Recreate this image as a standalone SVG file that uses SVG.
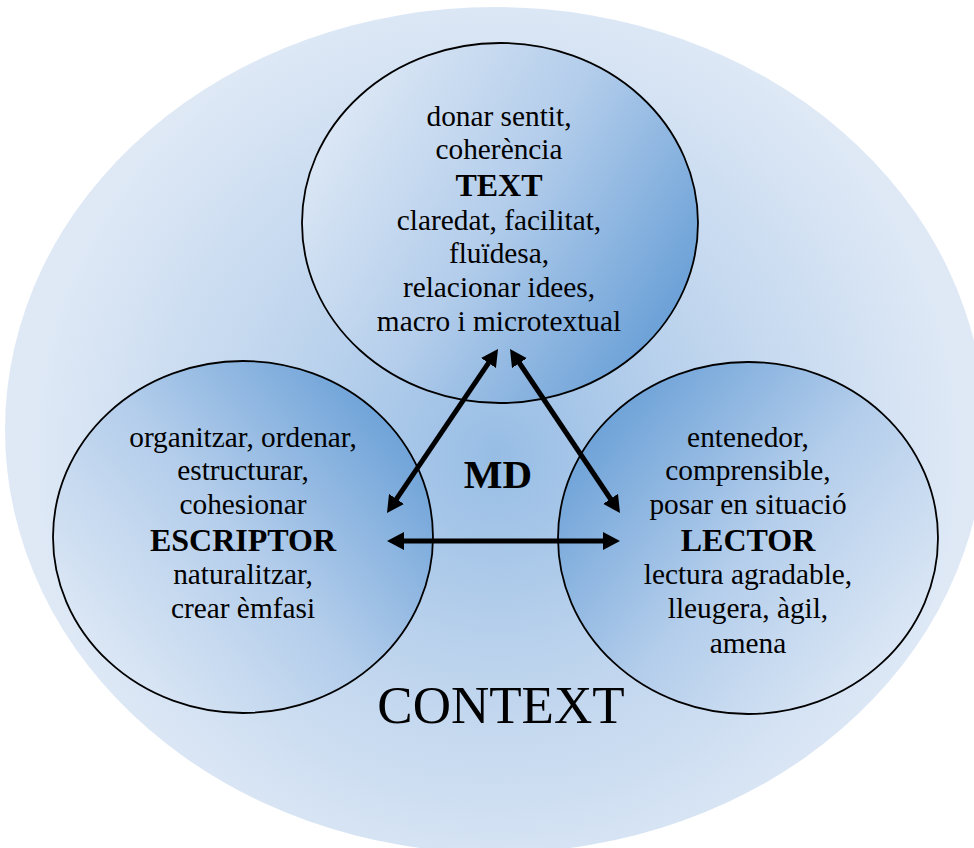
<svg xmlns="http://www.w3.org/2000/svg" width="974" height="848" viewBox="0 0 974 848">
<defs>
<radialGradient id="gCtx" gradientUnits="userSpaceOnUse" cx="497" cy="455" r="470">
<stop offset="0" stop-color="#97bde5"/>
<stop offset="0.45" stop-color="#bcd3ed"/>
<stop offset="1" stop-color="#dfe9f6"/>
</radialGradient>
<linearGradient id="gText" gradientUnits="userSpaceOnUse" x1="330" y1="80" x2="690" y2="310">
<stop offset="0" stop-color="#e0eaf6"/>
<stop offset="0.5" stop-color="#b3cdeb"/>
<stop offset="1" stop-color="#679ed6"/>
</linearGradient>
<linearGradient id="gEsc" gradientUnits="userSpaceOnUse" x1="90" y1="680" x2="410" y2="410">
<stop offset="0" stop-color="#e0eaf6"/>
<stop offset="0.5" stop-color="#b3cdeb"/>
<stop offset="1" stop-color="#679ed6"/>
</linearGradient>
<linearGradient id="gLec" gradientUnits="userSpaceOnUse" x1="905" y1="680" x2="585" y2="410">
<stop offset="0" stop-color="#e0eaf6"/>
<stop offset="0.5" stop-color="#b3cdeb"/>
<stop offset="1" stop-color="#679ed6"/>
</linearGradient>
<marker id="ah" markerUnits="userSpaceOnUse" viewBox="0 0 17 18" markerWidth="17" markerHeight="18" refX="5" refY="9" orient="auto-start-reverse">
<path d="M0,0 L17,9 L0,18 z" fill="#000"/>
</marker>
<style>
.c{stroke:#000;stroke-width:1.8}
.t{font-family:"Liberation Serif","Times New Roman",serif;font-size:29.33px;fill:#000;text-anchor:middle}
.b{font-weight:bold;font-size:32px}
.a{stroke:#000;stroke-width:5;fill:none;marker-start:url(#ah);marker-end:url(#ah)}
</style>
</defs>
<g id="context">
<ellipse cx="495" cy="430" rx="490" ry="423" fill="url(#gCtx)"/>
<text class="t" x="501" y="723" style="font-size:53px">CONTEXT</text>
</g>
<g id="text-node">
<ellipse class="c" cx="500" cy="223" rx="198" ry="180" fill="url(#gText)"/>
<text class="t" x="499" y="126">donar sentit,</text>
<text class="t" x="499" y="159">coherència</text>
<text class="t b" x="499" y="196">TEXT</text>
<text class="t" x="499" y="230">claredat, facilitat,</text>
<text class="t" x="499" y="263">fluïdesa,</text>
<text class="t" x="499" y="297">relacionar idees,</text>
<text class="t" x="499" y="331">macro i microtextual</text>
</g>
<g id="escriptor">
<ellipse class="c" cx="243" cy="537" rx="190" ry="176" fill="url(#gEsc)"/>
<text class="t" x="243" y="447">organitzar, ordenar,</text>
<text class="t" x="243" y="480">estructurar,</text>
<text class="t" x="243" y="514">cohesionar</text>
<text class="t b" x="243" y="551">ESCRIPTOR</text>
<text class="t" x="243" y="584">naturalitzar,</text>
<text class="t" x="243" y="618">crear èmfasi</text>
</g>
<g id="lector">
<ellipse class="c" cx="748" cy="538" rx="190" ry="176" fill="url(#gLec)"/>
<text class="t" x="748" y="447">entenedor,</text>
<text class="t" x="748" y="480">comprensible,</text>
<text class="t" x="748" y="514">posar en situació</text>
<text class="t b" x="748" y="551">LECTOR</text>
<text class="t" x="748" y="584">lectura agradable,</text>
<text class="t" x="748" y="618">lleugera, àgil,</text>
<text class="t" x="748" y="653">amena</text>
</g>
<g id="md">
<text class="t b" x="498" y="488" style="font-size:41px">MD</text>
</g>
<g id="connectors">
<line class="a" x1="491.3" y1="358.9" x2="393.7" y2="503.1"/>
<line class="a" x1="516.7" y1="359" x2="613.3" y2="503"/>
<line class="a" x1="399" y1="541" x2="608" y2="541"/>
</g>
</svg>
